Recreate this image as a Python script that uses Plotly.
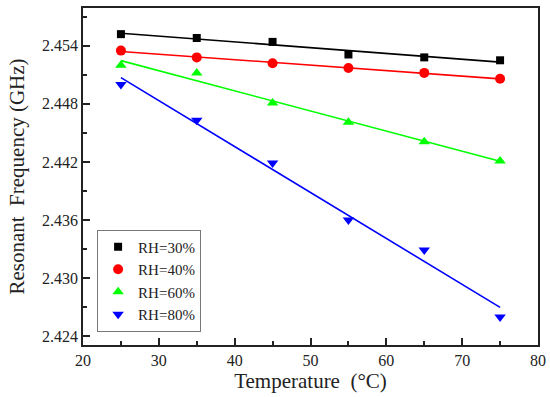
import numpy as np
import plotly.graph_objects as go

temperature = [25, 35, 45, 55, 65, 75]
rh30 = [2.4552, 2.4548, 2.4544, 2.4531, 2.4528, 2.4525]
rh40 = [2.4535, 2.4528, 2.4522, 2.4517, 2.4512, 2.4506]
rh60 = [2.4520, 2.4512, 2.4481, 2.4461, 2.4441, 2.4421]
rh80 = [2.4500, 2.4463, 2.4419, 2.4360, 2.4329, 2.4260]
names = ["RH=30%", "RH=40%", "RH=60%", "RH=80%"]
colors = ["#000000", "#ff0000", "#00ff00", "#0000ff"]
symbols = ["square", "circle", "triangle-up", "triangle-down"]
sizes = [8, 10, 10, 10]

fig = go.Figure()
for ys, name, c in zip([rh30, rh40, rh60, rh80], names, colors):
    p = np.polyfit(temperature, ys, 1)
    xf = [temperature[0], temperature[-1]]
    fig.add_trace(go.Scatter(x=xf, y=list(np.polyval(p, xf)), mode="lines",
                             line=dict(color=c, width=1.6), showlegend=False, hoverinfo="skip"))
for ys, name, c, s, sz in zip([rh30, rh40, rh60, rh80], names, colors, symbols, sizes):
    fig.add_trace(go.Scatter(x=temperature, y=ys, mode="markers", name=name,
                             marker=dict(color=c, symbol=s, size=sz)))

font = "Liberation Serif, serif"
fig.update_layout(
    width=550, height=397,
    margin=dict(l=83, r=12, t=8, b=52),
    paper_bgcolor="white", plot_bgcolor="white",
    font=dict(family=font, size=16, color="#222"),
    showlegend=True,
    legend=dict(x=0.031, y=0.04, xanchor="left", yanchor="bottom",
                bordercolor="#777", borderwidth=1, bgcolor="white",
                font=dict(size=15, family=font), tracegroupgap=0, itemsizing="trace"),
    xaxis=dict(range=[20, 80], dtick=10, tick0=20, ticks="inside", ticklen=7, tickwidth=1.5,
               tickcolor="#222", showline=True, linewidth=1.8, linecolor="#222", mirror=True,
               showgrid=False, zeroline=False, ticklabelstandoff=0, automargin=False,
               minor=dict(dtick=5, ticks="inside", ticklen=4, tickwidth=1.5, tickcolor="#222", showgrid=False),
               title=dict(text="Temperature  (°C)", font=dict(size=21, family=font), standoff=2),
               tickfont=dict(size=16, family=font)),
    yaxis=dict(range=[2.4231, 2.4579], dtick=0.006, tick0=2.424, tickformat=".3f",
               ticks="inside", ticklen=7, tickwidth=1.5, tickcolor="#222",
               showline=True, linewidth=1.8, linecolor="#222", mirror=True,
               showgrid=False, zeroline=False, automargin=False,
               minor=dict(dtick=0.003, tick0=2.424, ticks="inside", ticklen=4, tickwidth=1.5, tickcolor="#222", showgrid=False),
               title=dict(text="Resonant  Frequency (GHz)", font=dict(size=21, family=font), standoff=12),
               tickfont=dict(size=16, family=font)),
)
fig.write_html("out.html", config={"displayModeBar": False},
               post_script="document.body.style.margin='0';")
